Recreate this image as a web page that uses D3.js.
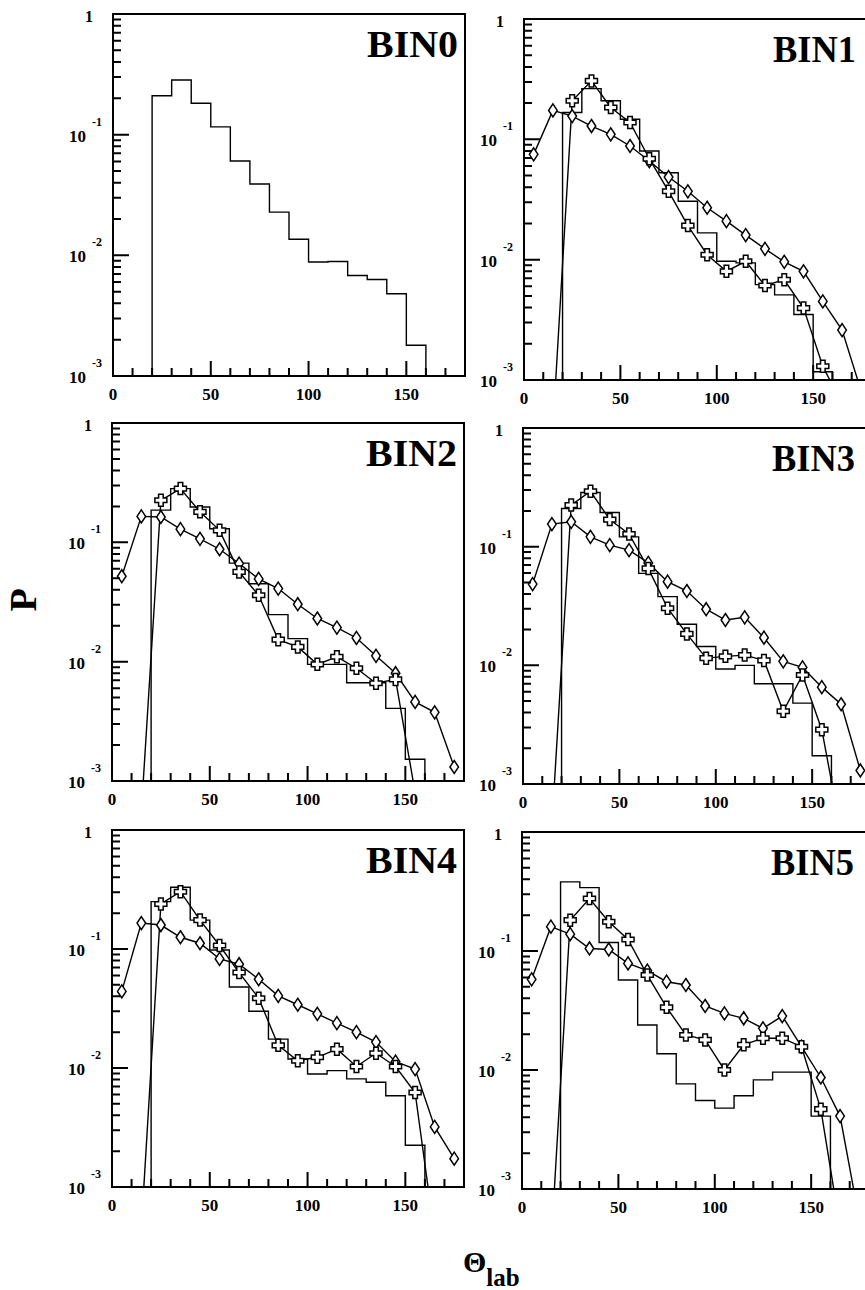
<!DOCTYPE html>
<html><head><meta charset="utf-8">
<script src="https://cdn.jsdelivr.net/npm/d3@7"></script>
<style>
body{margin:0;background:#fff}
svg{display:block}
text{font-family:"Liberation Serif","Times New Roman",serif;font-weight:bold;fill:#000}
</style>
</head><body>
<svg id="c" width="865" height="1290"></svg>
<script>
// ---------------- data ----------------
const panelNames = ["BIN0","BIN1","BIN2","BIN3","BIN4","BIN5"];
const histEdges = [20,30,40,50,60,70,80,90,100,110,120,130,140,150];
const histEnd = 160;
const diamondX = [5,15,25,35,45,55,65,75,85,95,105,115,125,135,145,155,165,175];
const crossX = [15,25,35,45,55,65,75,85,95,105,115,125,135,145,155,165];
const xTickLabels = [0,50,100,150];
const xMinorTicks = [10,20,30,40,60,70,80,90,110,120,130,140,160,170];
const yMajorTicks = [1,0.1,0.01,0.001];
const yTickBase = ["1","10","10","10"];
const yTickExp = ["","-1","-2","-3"];
const yMinorTicks = [0.002,0.003,0.004,0.005,0.006,0.007,0.008,0.009,
                     0.02,0.03,0.04,0.05,0.06,0.07,0.08,0.09,
                     0.2,0.3,0.4,0.5,0.6,0.7,0.8,0.9];

const hist0 = [0.21,0.284,0.182,0.116,0.0605,0.039,0.0228,0.0136,0.0088,0.0089,0.0068,0.0063,0.0048,0.0018];

const hist1 = [0.167,0.264,0.209,0.147,0.080,0.0528,0.0306,0.0167,0.0097,0.0094,0.0062,0.0051,0.0035,0.00117];
const diamond1 = [0.075,0.174,0.156,0.129,0.110,0.088,0.066,0.0486,0.037,0.027,0.0209,0.016,0.0123,0.0096,0.008,0.0045,0.0026,0.0008];
const cross1 = [0.0004,0.209,0.306,0.184,0.138,0.069,0.037,0.0192,0.011,0.008,0.0097,0.0061,0.0068,0.00396,0.0013,0.00063];

const hist2 = [0.186,0.282,0.198,0.130,0.067,0.045,0.0248,0.0156,0.0095,0.0095,0.00665,0.00665,0.00406,0.00152];
const diamond2 = [0.052,0.165,0.163,0.129,0.107,0.0875,0.0664,0.0494,0.041,0.0303,0.023,0.0193,0.0158,0.0112,0.008,0.0046,0.00376,0.00131];
const cross2 = [0.00055,0.225,0.282,0.18,0.126,0.0565,0.036,0.0153,0.0133,0.0095,0.011,0.0088,0.0066,0.0071,0.0008,0.0002];

const hist3 = [0.21,0.286,0.194,0.121,0.0596,0.0379,0.0222,0.0144,0.0093,0.0100,0.007,0.007,0.0048,0.00173];
const diamond3 = [0.0484,0.155,0.162,0.121,0.103,0.0935,0.073,0.0507,0.0423,0.0297,0.0241,0.0254,0.0171,0.0108,0.0096,0.00655,0.0047,0.0013];
const cross3 = [0.00045,0.224,0.293,0.169,0.128,0.0656,0.0303,0.0184,0.0115,0.0119,0.0122,0.011,0.0041,0.0083,0.00287,0.00039];

const hist4 = [0.25,0.33,0.175,0.098,0.048,0.0300,0.0175,0.0119,0.0089,0.0095,0.0081,0.0076,0.00585,0.00224];
const diamond4 = [0.044,0.165,0.159,0.1255,0.1118,0.0826,0.0745,0.0557,0.0404,0.034,0.0285,0.0238,0.02,0.0165,0.0113,0.0098,0.0032,0.00173];
const cross4 = [0.00045,0.239,0.303,0.175,0.107,0.0634,0.0386,0.0155,0.0115,0.0123,0.0144,0.0103,0.0133,0.0103,0.00623,0.00039];

const hist5 = [0.381,0.341,0.118,0.057,0.0239,0.0137,0.00765,0.00554,0.00478,0.00607,0.00826,0.0096,0.0096,0.0041];
const diamond5 = [0.0578,0.16,0.1386,0.105,0.103,0.0787,0.0683,0.0552,0.0518,0.0345,0.0299,0.0272,0.0224,0.0284,0.0157,0.00865,0.0041,0.00055];
const cross5 = [0.00032,0.1816,0.276,0.176,0.125,0.0628,0.0336,0.0197,0.0179,0.01,0.0163,0.0185,0.0185,0.0157,0.00469,0.00047];

const histSeries = [hist0,hist1,hist2,hist3,hist4,hist5];
const diamondSeries = [null,diamond1,diamond2,diamond3,diamond4,diamond5];
const crossSeries = [null,cross1,cross2,cross3,cross4,cross5];

// ---------------- layout ----------------
const layout = [
  {x0:113,   w:352, top:14,  bottom:376,  right:false},
  {x0:524,   w:347, top:19,  bottom:380,  right:true},
  {x0:112,   w:352, top:423, bottom:781,  right:false},
  {x0:523,   w:347, top:428, bottom:784,  right:true},
  {x0:112,   w:352, top:830, bottom:1187, right:false},
  {x0:522,   w:347, top:832, bottom:1189, right:true}
];

const svg = d3.select("#c");
const defs = svg.append("defs");

const crossPath = (s,a) => `M${-a},${-s}L${a},${-s}L${a},${-a}L${s},${-a}L${s},${a}L${a},${a}L${a},${s}L${-a},${s}L${-a},${a}L${-s},${a}L${-s},${-a}L${-a},${-a}Z`;
const diamondPath = (hw,hh) => `M0,${-hh}L${hw},0L0,${hh}L${-hw},0Z`;

panelNames.forEach((name, i) => {
  const L = layout[i];
  const x = d3.scaleLinear().domain([0,180]).range([L.x0, L.x0 + L.w]);
  const y = d3.scaleLog().domain([1e-3,1]).range([L.bottom, L.top]);
  const g = svg.append("g");

  defs.append("clipPath").attr("id","clip"+i)
    .append("rect").attr("x",L.x0).attr("y",L.top)
    .attr("width",L.w).attr("height",L.bottom-L.top);

  const plot = g.append("g").attr("clip-path",`url(#clip${i})`);

  // histogram
  const h = histSeries[i];
  const pts = [[histEdges[0],1e-4]]
    .concat(histEdges.map((e,k)=>[e,h[k]]))
    .concat([[histEnd,h[h.length-1]],[histEnd,1e-4]]);
  plot.append("path")
    .attr("d", d3.line().x(d=>x(d[0])).y(d=>y(d[1])).curve(d3.curveStepAfter)(pts))
    .attr("fill","none").attr("stroke","#000").attr("stroke-width",1.4);

  const lineGen = d3.line().x(d=>x(d[0])).y(d=>y(d[1]));
  const dia = diamondSeries[i], cro = crossSeries[i];
  if (dia) {
    const dpts = diamondX.map((xx,k)=>[xx,dia[k]]);
    const cpts = crossX.map((xx,k)=>[xx,cro[k]]);
    plot.append("path").attr("d",lineGen(dpts)).attr("fill","none").attr("stroke","#000").attr("stroke-width",1.4);
    plot.append("path").attr("d",lineGen(cpts)).attr("fill","none").attr("stroke","#000").attr("stroke-width",1.4);
    plot.selectAll(".dm").data(dpts).enter().append("path")
      .attr("d",diamondPath(4.3,6.5))
      .attr("transform",d=>`translate(${x(d[0])},${y(d[1])})`)
      .attr("fill","#fff").attr("stroke","#000").attr("stroke-width",1.5);
    plot.selectAll(".cr").data(cpts).enter().append("path")
      .attr("d",crossPath(6,2.3))
      .attr("transform",d=>`translate(${x(d[0])},${y(d[1])})`)
      .attr("fill","#fff").attr("stroke","#000").attr("stroke-width",1.5);
  }

  // frame
  g.append("path").attr("d",`M${L.x0},${L.top}H${L.x0+L.w}V${L.bottom}H${L.x0}Z`)
    .attr("fill","none").attr("stroke","#000").attr("stroke-width",2);

  // inward ticks, positioned through the scales
  const ticks =
    xTickLabels.map(v=>`M${x(v)},${L.bottom}V${L.bottom-15}`).join("") +
    xMinorTicks.map(v=>`M${x(v)},${L.bottom}V${L.bottom-8}`).join("") +
    yMajorTicks.map(v=>`M${L.x0},${y(v)}H${L.x0+16}`).join("") +
    yMinorTicks.map(v=>`M${L.x0},${y(v)}H${L.x0+8}`).join("");
  g.append("path").attr("d",ticks)
    .attr("fill","none").attr("stroke","#000").attr("stroke-width",2);

  // x tick labels
  g.selectAll(".xl").data(xTickLabels).enter().append("text")
    .attr("x",d=>x(d)).attr("y",L.bottom+24).attr("text-anchor","middle")
    .attr("font-size",17).text(d=>d);

  // y tick labels
  yMajorTicks.forEach((v,k)=>{
    const yy = y(v);
    if (yTickExp[k]==="") {
      g.append("text").attr("x",L.x0-20).attr("y",yy+8).attr("text-anchor","end")
        .attr("font-size",16).text(yTickBase[k]);
    } else {
      g.append("text").attr("x",L.x0-27).attr("y",yy+7).attr("text-anchor","end")
        .attr("font-size",17).text(yTickBase[k]);
      g.append("text").attr("x",L.x0-21).attr("y",yy-9).attr("text-anchor","start")
        .attr("font-size",12).text(yTickExp[k]);
    }
  });

  // panel title
  g.append("text")
    .attr("x", L.right ? L.x0+332 : L.x0+345)
    .attr("y", L.top+43)
    .attr("text-anchor","end")
    .attr("font-size",38)
    .attr("textLength", L.right ? 83 : 91)
    .attr("lengthAdjust","spacingAndGlyphs")
    .text(name);
});

// global axis labels
svg.append("text").attr("transform","translate(36,600) rotate(-90)")
  .attr("text-anchor","middle").attr("font-size",38).text("P");
const tl = svg.append("text").attr("x",463).attr("y",1272).attr("font-size",30);
tl.append("tspan").text("Θ");
tl.append("tspan").attr("font-size",25).attr("dy",14).text("lab");
</script>
</body></html>
